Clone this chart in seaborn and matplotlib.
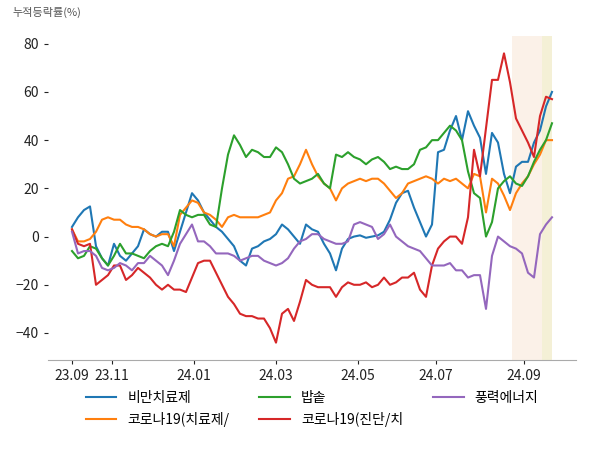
import numpy as np
import pandas as pd
import seaborn as sns
import matplotlib.pyplot as plt

# KRX trading calendar for the period shown
start_date = '2023-09-27'
end_date = '2024-09-25'
krx_holidays = [
    '2023-09-28', '2023-09-29', '2023-10-02', '2023-10-03', '2023-10-09',
    '2023-12-25', '2023-12-29', '2024-01-01', '2024-02-09', '2024-02-12',
    '2024-03-01', '2024-04-10', '2024-05-01', '2024-05-06', '2024-05-15',
    '2024-06-06', '2024-08-15', '2024-09-16', '2024-09-17', '2024-09-18',
]
tick_months = ['2023-09', '2023-11', '2024-01', '2024-03', '2024-05', '2024-07', '2024-09']
tick_labels = ['23.09', '23.11', '24.01', '24.03', '24.05', '24.07', '24.09']
sample_every = 3  # values read every 3rd trading day

series_names = ['비만치료제', '코로나19(치료제/', '밥솥', '코로나19(진단/치', '풍력에너지']

obesity = [4, 8, 11, 12.5, -4, -9, -12, -3, -8, -10, -7, -4, 3, 1, 0, 2, 2, -6, 2, 10,
           18, 15, 10, 7, 4, 2, -1, -4, -10, -12, -5, -4, -2, -1, 1, 5, 3, 0, -3, 5,
           3, 2, -3, -7, -14, -5, -1, 0, 0.5, -0.5, 0, 0.5, 2, 7, 14, 18, 19, 12, 6, 0,
           5, 35, 36, 44, 50, 40, 52, 46, 41, 26, 43, 39, 26, 18, 29, 31, 31, 39, 44, 54,
           60]
covid_treat = [3, -2, -2, -1, 2, 7, 8, 7, 7, 5, 4, 4, 3, 1, 0, 1, 1, -4, 9, 12,
               15, 14, 10, 9, 7, 4, 8, 9, 8, 8, 8, 8, 9, 10, 15, 18, 24, 25, 30, 36,
               30, 25, 22, 20, 15, 20, 22, 23, 24, 23, 24, 24, 22, 19, 16, 18, 22, 23, 24, 25,
               24, 22, 24, 23, 24, 22, 20, 26, 25, 10, 24, 22, 17, 11, 18, 22, 25, 30, 34, 40,
               40]
rice_cooker = [-6, -9, -8, -4, -5, -9, -12, -8, -3, -7, -7, -8, -9, -6, -4, -3, -4, 2, 11, 9,
               8, 9, 9, 5, 4, 20, 34, 42, 38, 33, 36, 35, 33, 33, 37, 35, 30, 24, 22, 23,
               24, 26, 22, 20, 34, 33, 35, 33, 32, 30, 32, 33, 31, 28, 29, 28, 28, 30, 36, 37,
               40, 40, 43, 46, 44, 40, 27, 18, 16, 0, 6, 20, 23, 25, 22, 21, 25, 31, 36, 40,
               47]
covid_diag = [3, -3, -4, -3, -20, -18, -16, -12, -12, -18, -16, -13, -15, -17, -20, -22, -20, -22, -22, -23,
              -17, -11, -10, -10, -15, -20, -25, -28, -32, -33, -33, -34, -34, -38, -44, -32, -30, -35, -27, -18,
              -20, -21, -21, -21, -25, -21, -19, -20, -20, -19, -21, -20, -17, -20, -19, -17, -17, -15, -22, -25,
              -12, -5, -2, 0, 0, -3, 8, 36, 25, 45, 65, 65, 76, 64, 49, 44, 39, 33, 50, 58,
              57]
wind = [2, -7, -6, -6, -8, -13, -14, -13, -11, -12, -14, -11, -11, -8, -10, -12, -16, -10, -3, 1,
        5, -2, -2, -4, -7, -7, -7, -8, -10, -9, -8, -8, -10, -11, -12, -11, -9, -5, -2, -1,
        1, 1, -1, -2, -3, -3, -2, 5, 6, 5, 4, -1, 1, 5, 0, -2, -4, -5, -6, -9,
        -12, -12, -12, -11, -14, -14, -17, -16, -16, -30, -8, 0, -2, -4, -5, -7, -15, -17, 1, 5,
        8]

span1 = ('2024-08-23', '2024-09-13')
span2 = ('2024-09-13', '2024-09-25')

days = pd.bdate_range(start_date, end_date, freq='C', holidays=krx_holidays)
pos = pd.Series(np.arange(len(days)), index=days)
x_idx = pos.values[::sample_every]

df = pd.concat([
    pd.DataFrame({'x': x_idx, 'value': vals, 'series': name})
    for name, vals in zip(series_names, [obesity, covid_treat, rice_cooker, covid_diag, wind])
])

plt.rcParams['font.family'] = ['Noto Sans CJK KR', 'DejaVu Sans']
fig, ax = plt.subplots(figsize=(6, 4.5), dpi=100)
fig.subplots_adjust(left=0.08, right=0.96, top=0.92, bottom=0.2)

ax.axvspan(pos[span1[0]], pos[span1[1]], color='#fbf1e8', lw=0, zorder=0)
ax.axvspan(pos[span2[0]], pos[span2[1]], color='#f4f0d6', lw=0, zorder=0)

sns.lineplot(data=df, x='x', y='value', hue='series', palette='tab10',
             linewidth=1.5, ax=ax)

tick_pos = [pos[pos.index >= pd.Timestamp(m)].iloc[0] for m in tick_months]
ax.set_xticks(tick_pos)
ax.set_xticklabels(tick_labels)
ax.set_xlim(-12, 252)
ax.set_ylim(-51.2, 83.2)
ax.set_yticks([-40, -20, 0, 20, 40, 60, 80])
ax.set_xlabel('')
ax.set_ylabel('')
ax.tick_params(labelsize=10, length=3, colors='#222222')
for side in ['top', 'right', 'left']:
    ax.spines[side].set_visible(False)
ax.spines['bottom'].set_color('#aaaaaa')

ax.legend(loc='upper center', bbox_to_anchor=(0.5, -0.058), ncol=3, frameon=False,
          fontsize=10, handlelength=2.2, handletextpad=0.8, columnspacing=2.15)
fig.text(0.02, 0.965, '누적등락률(%)', fontsize=8, color='#555555')

plt.savefig('out.png')
